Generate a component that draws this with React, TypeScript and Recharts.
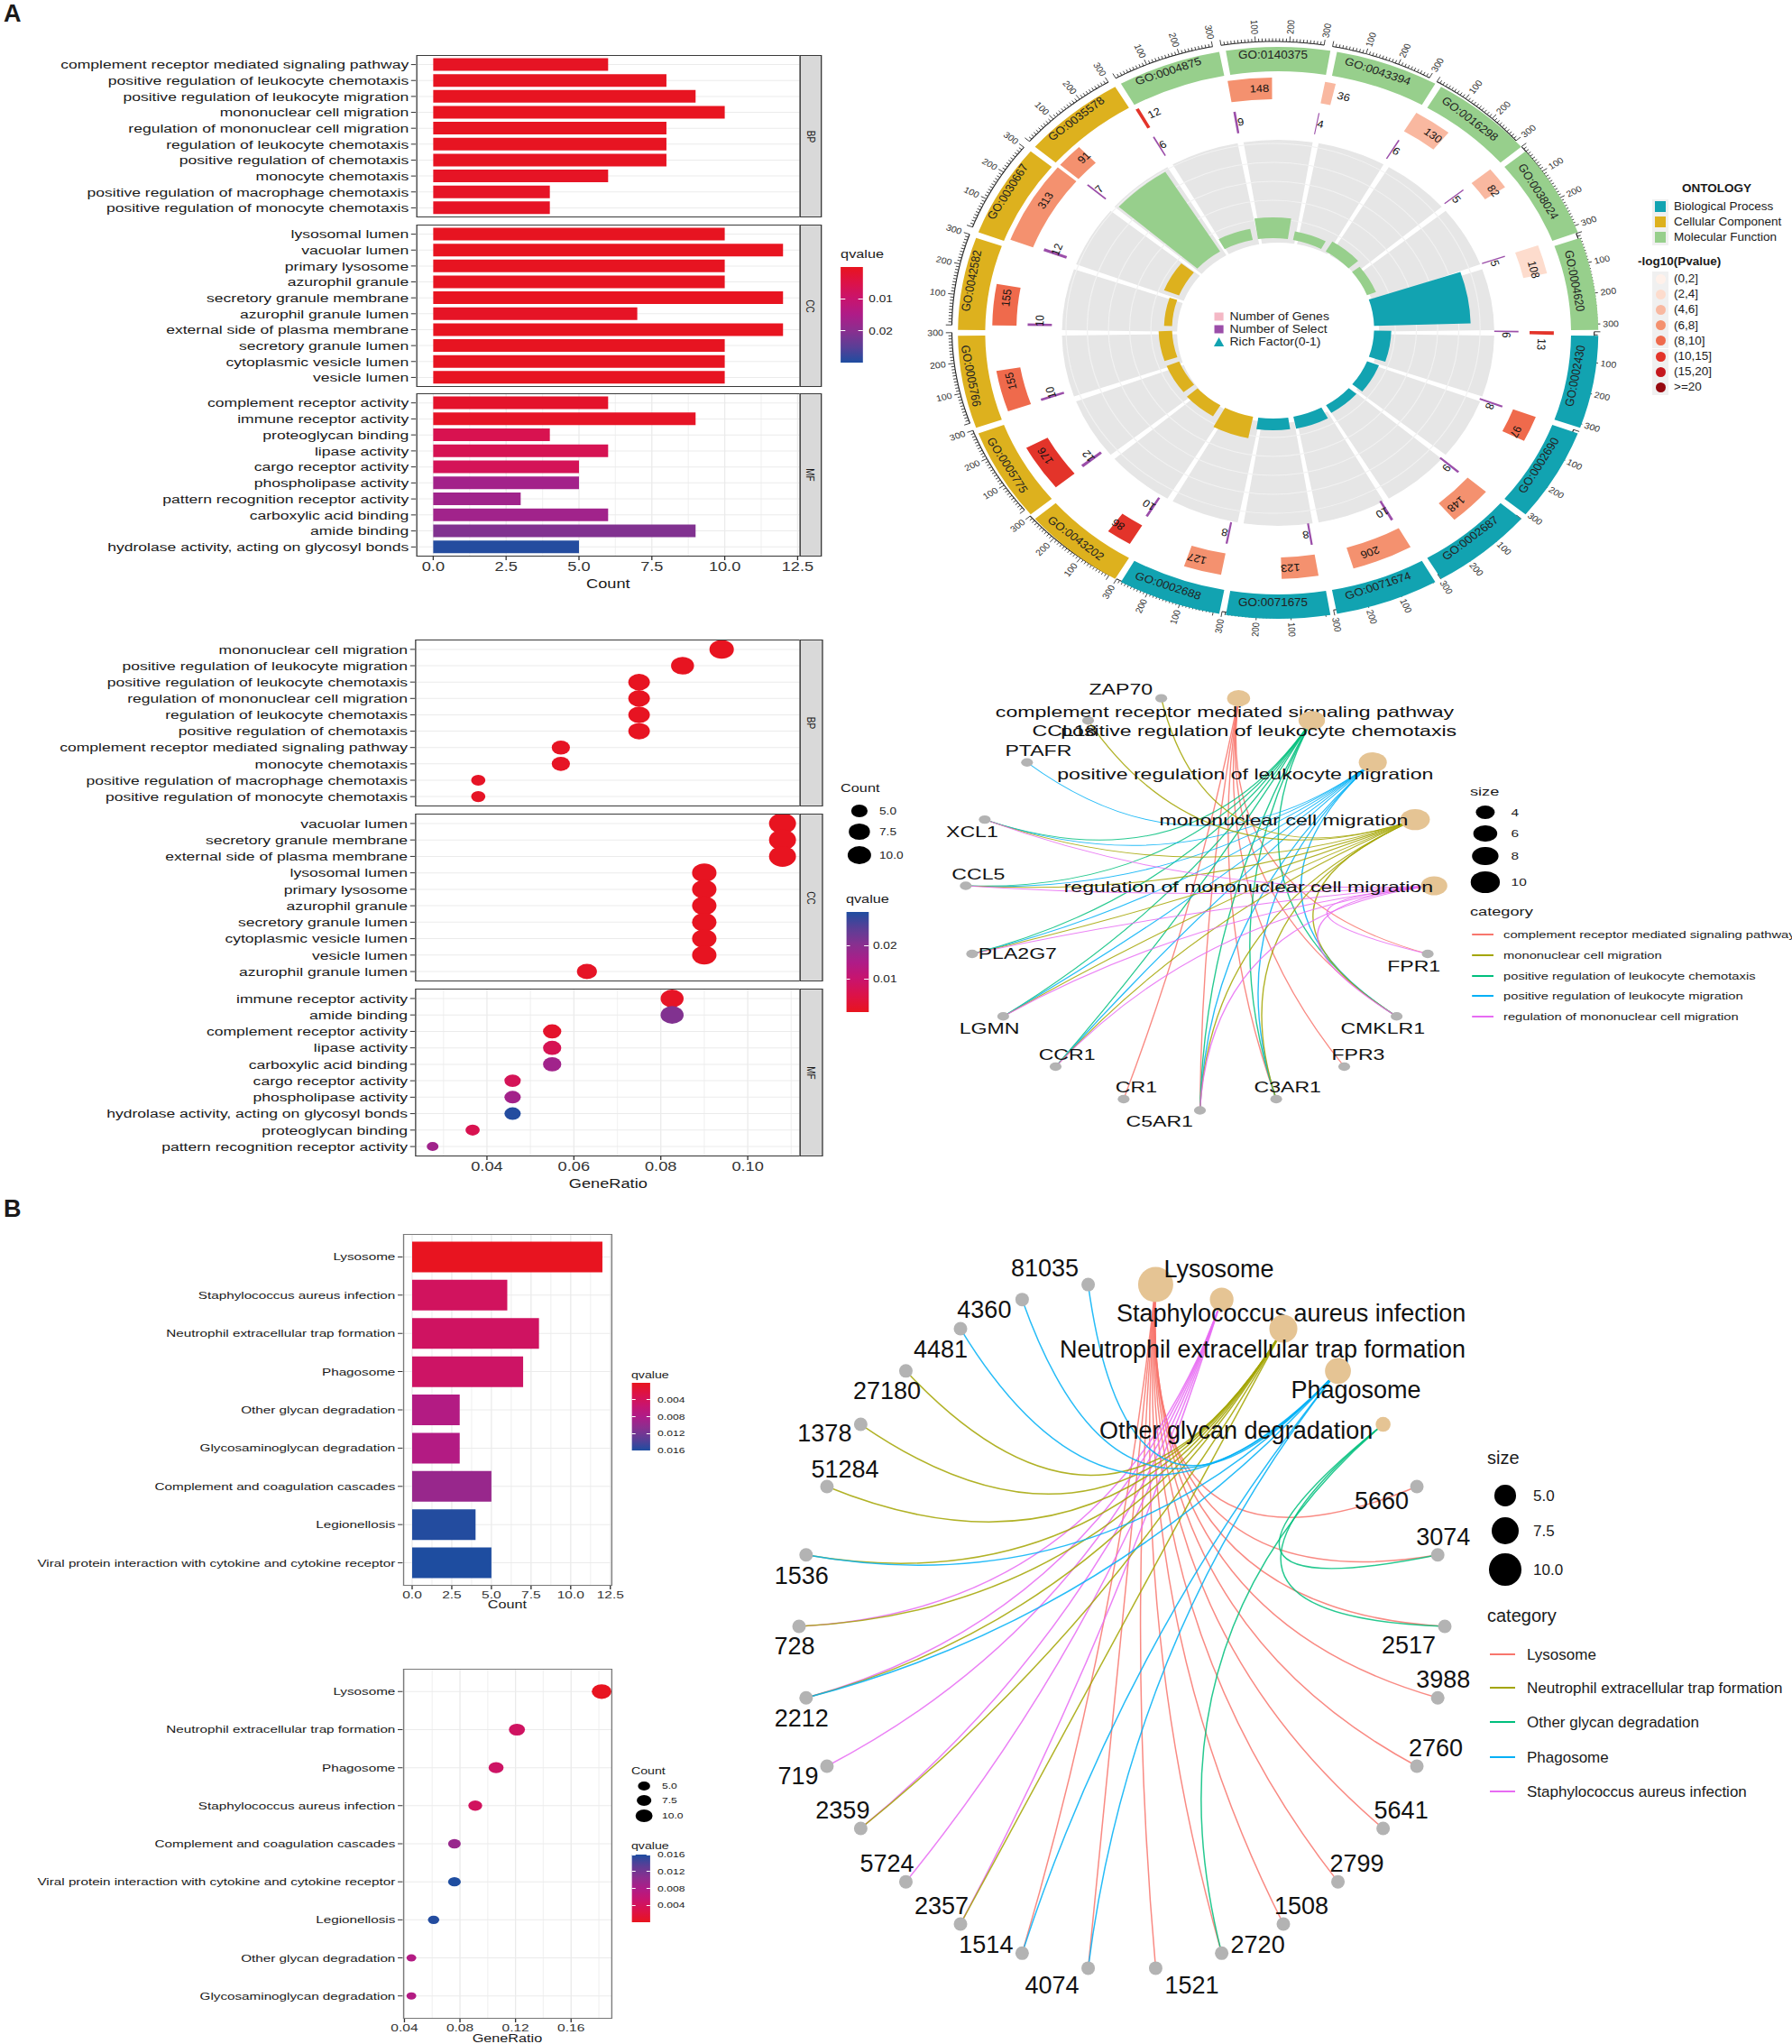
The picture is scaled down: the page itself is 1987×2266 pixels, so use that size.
import React from 'react';
import {
  BarChart, Bar, XAxis, YAxis, ZAxis, CartesianGrid, Cell, ScatterChart, Scatter,
  PieChart, Pie, RadialBarChart, RadialBar, PolarAngleAxis, PolarRadiusAxis, PolarGrid, Sector,
} from 'recharts';

const FONT = '"Liberation Sans", Arial, Helvetica, sans-serif';

// ---------- A: GO enrichment, bar order ----------
const bpTerms = [
  'complement receptor mediated signaling pathway', 'positive regulation of leukocyte chemotaxis',
  'positive regulation of leukocyte migration', 'mononuclear cell migration', 'regulation of mononuclear cell migration',
  'regulation of leukocyte chemotaxis', 'positive regulation of chemotaxis', 'monocyte chemotaxis',
  'positive regulation of macrophage chemotaxis', 'positive regulation of monocyte chemotaxis',
];
const bpCounts = [6, 8, 9, 10, 8, 8, 8, 6, 4, 4];
const bpQ = [0.0007, 0.0004, 0.0003, 0.0002, 0.0004, 0.0005, 0.0005, 0.0008, 0.001, 0.001];

const ccTerms = [
  'lysosomal lumen', 'vacuolar lumen', 'primary lysosome', 'azurophil granule', 'secretory granule membrane',
  'azurophil granule lumen', 'external side of plasma membrane', 'secretory granule lumen', 'cytoplasmic vesicle lumen', 'vesicle lumen',
];
const ccCounts = [10, 12, 10, 10, 12, 7, 12, 10, 10, 10];
const ccQ = [0.0004, 0.0002, 0.0004, 0.0004, 0.0002, 0.0009, 0.0002, 0.0004, 0.0004, 0.0004];

const mfTerms = [
  'complement receptor activity', 'immune receptor activity', 'proteoglycan binding', 'lipase activity', 'cargo receptor activity',
  'phospholipase activity', 'pattern recognition receptor activity', 'carboxylic acid binding', 'amide binding',
  'hydrolase activity, acting on glycosyl bonds',
];
const mfCounts = [6, 9, 4, 6, 5, 5, 3, 6, 9, 5];
const mfQ = [0.0015, 0.001, 0.006, 0.0065, 0.007, 0.0165, 0.017, 0.0168, 0.021, 0.0295];

// ---------- A: GO dot plot order ----------
const bpDotTerms = [
  'mononuclear cell migration', 'positive regulation of leukocyte migration', 'positive regulation of leukocyte chemotaxis',
  'regulation of mononuclear cell migration', 'regulation of leukocyte chemotaxis', 'positive regulation of chemotaxis',
  'complement receptor mediated signaling pathway', 'monocyte chemotaxis', 'positive regulation of macrophage chemotaxis',
  'positive regulation of monocyte chemotaxis',
];
const bpDotRatio = [0.094, 0.085, 0.075, 0.075, 0.075, 0.075, 0.057, 0.057, 0.038, 0.038];
const ccDotTerms = [
  'vacuolar lumen', 'secretory granule membrane', 'external side of plasma membrane', 'lysosomal lumen', 'primary lysosome',
  'azurophil granule', 'secretory granule lumen', 'cytoplasmic vesicle lumen', 'vesicle lumen', 'azurophil granule lumen',
];
const ccDotRatio = [0.108, 0.108, 0.108, 0.09, 0.09, 0.09, 0.09, 0.09, 0.09, 0.063];
const mfDotTerms = [
  'immune receptor activity', 'amide binding', 'complement receptor activity', 'lipase activity', 'carboxylic acid binding',
  'cargo receptor activity', 'phospholipase activity', 'hydrolase activity, acting on glycosyl bonds', 'proteoglycan binding',
  'pattern recognition receptor activity',
];
const mfDotRatio = [0.0826, 0.0826, 0.055, 0.055, 0.055, 0.0459, 0.0459, 0.0459, 0.0367, 0.0275];

// ---------- A: GO circle ----------
const goIds = [
  'GO:0004875', 'GO:0140375', 'GO:0043394', 'GO:0016298', 'GO:0038024', 'GO:0004620',
  'GO:0002430', 'GO:0002690', 'GO:0002687', 'GO:0071674', 'GO:0071675', 'GO:0002688',
  'GO:0043202', 'GO:0005775', 'GO:0005766', 'GO:0042582', 'GO:0030667', 'GO:0035578',
];
const goOntology = ['MF', 'MF', 'MF', 'MF', 'MF', 'MF', 'BP', 'BP', 'BP', 'BP', 'BP', 'BP', 'CC', 'CC', 'CC', 'CC', 'CC', 'CC'];
const goGenes = [12, 148, 36, 130, 82, 108, 13, 97, 148, 206, 123, 127, 86, 176, 155, 155, 313, 91];
const goSelect = [6, 9, 4, 6, 5, 5, 6, 8, 9, 10, 8, 8, 10, 12, 10, 10, 12, 7];
const goLogP = [11, 7, 5, 5, 5, 3.5, 12, 9, 7, 7, 7, 7, 12, 11, 9, 9, 7, 7];

// ---------- A: gene-concept network ----------
const aNetOrder = [
  'complement receptor mediated signaling pathway', 'positive regulation of leukocyte chemotaxis',
  'positive regulation of leukocyte migration', 'mononuclear cell migration', 'regulation of mononuclear cell migration',
  'FPR1', 'CMKLR1', 'FPR3', 'C3AR1', 'C5AR1', 'CR1', 'CCR1', 'LGMN', 'PLA2G7', 'CCL5', 'XCL1', 'PTAFR', 'CCL18', 'ZAP70',
];
const aNetCats = aNetOrder.slice(0, 5);
const aNetCatCounts = [6, 8, 9, 10, 8];
const aNetLinks = [
  ['C3AR1', 'C5AR1', 'CR1', 'FPR1', 'FPR3', 'CMKLR1'],
  ['XCL1', 'CCL5', 'PLA2G7', 'CCR1', 'C5AR1', 'C3AR1', 'CMKLR1', 'LGMN'],
  ['PTAFR', 'XCL1', 'CCL5', 'PLA2G7', 'CCR1', 'C5AR1', 'C3AR1', 'CMKLR1', 'LGMN'],
  ['ZAP70', 'CCL18', 'XCL1', 'CCL5', 'PLA2G7', 'CCR1', 'C5AR1', 'C3AR1', 'CMKLR1', 'LGMN'],
  ['XCL1', 'CCL5', 'PLA2G7', 'LGMN', 'CCR1', 'C5AR1', 'CMKLR1', 'FPR1'],
];
const aLegendCats = [
  'complement receptor mediated signaling pathway', 'mononuclear cell migration', 'positive regulation of leukocyte chemotaxis',
  'positive regulation of leukocyte migration', 'regulation of mononuclear cell migration',
];

// ---------- B: KEGG ----------
const keggTerms = [
  'Lysosome', 'Staphylococcus aureus infection', 'Neutrophil extracellular trap formation', 'Phagosome',
  'Other glycan degradation', 'Glycosaminoglycan degradation', 'Complement and coagulation cascades', 'Legionellosis',
  'Viral protein interaction with cytokine and cytokine receptor',
];
const keggCounts = [12, 6, 8, 7, 3, 3, 5, 4, 5];
const keggQ = [0.0001, 0.0042, 0.0044, 0.0047, 0.0075, 0.0075, 0.0096, 0.0158, 0.016];
const keggDotTerms = [
  'Lysosome', 'Neutrophil extracellular trap formation', 'Phagosome', 'Staphylococcus aureus infection',
  'Complement and coagulation cascades', 'Viral protein interaction with cytokine and cytokine receptor', 'Legionellosis',
  'Other glycan degradation', 'Glycosaminoglycan degradation',
];
const keggDotRatio = [0.182, 0.121, 0.106, 0.091, 0.076, 0.076, 0.061, 0.045, 0.045];

const bNetOrder = [
  'Lysosome', 'Staphylococcus aureus infection', 'Neutrophil extracellular trap formation', 'Phagosome', 'Other glycan degradation',
  '5660', '3074', '2517', '3988', '2760', '5641', '2799', '1508', '2720', '1521', '4074', '1514', '2357', '5724', '2359',
  '719', '2212', '728', '1536', '51284', '1378', '27180', '4481', '4360', '81035',
];
const bNetCats = bNetOrder.slice(0, 5);
const bNetCatCounts = [12, 6, 8, 7, 3];
const bNetLinks = [
  ['5660', '3074', '2517', '3988', '2760', '5641', '2799', '1508', '2720', '1521', '1514', '4074'],
  ['728', '2212', '719', '5724', '2357', '2359'],
  ['27180', '1378', '51284', '1536', '728', '2212', '2359', '2357'],
  ['81035', '4360', '4481', '1536', '2212', '1514', '4074'],
  ['3074', '2517', '2720'],
];
const bLegendCats = ['Lysosome', 'Neutrophil extracellular trap formation', 'Other glycan degradation', 'Phagosome', 'Staphylococcus aureus infection'];

// ---------- styles ----------
const qPalette = ['#E8141E', '#DC1248', '#C8146E', '#AE1C88', '#8A2F8F', '#5B3E96', '#1E4DA0'];
const hex = (h: string) => [1, 3, 5].map((i) => parseInt(h.slice(i, i + 2), 16));
function qColor(q: number, qMax: number) {
  const t = Math.min(1, Math.max(0, q / qMax)) * (qPalette.length - 1);
  const i = Math.min(qPalette.length - 2, Math.floor(t));
  const a = hex(qPalette[i]);
  const b = hex(qPalette[i + 1]);
  return `rgb(${a.map((v, k) => Math.round(v + (b[k] - v) * (t - i))).join(',')})`;
}
const pEdges = [2, 4, 6, 8, 10, 15, 20];
const pLabels = ['(0,2]', '(2,4]', '(4,6]', '(6,8]', '(8,10]', '(10,15]', '(15,20]', '>=20'];
const pColors = ['#FFF1EA', '#FDDCCD', '#F9B8A0', '#F4916F', '#EF6A4C', '#E3342A', '#C5171D', '#96080F'];
function pColor(v: number) {
  let i = 0;
  while (i < pEdges.length && v > pEdges[i]) i++;
  return pColors[i];
}
const ontColor: any = { BP: '#12A3B1', CC: '#DDB11E', MF: '#97CF8C' };
const ontName: any = { BP: 'Biological Process', CC: 'Cellular Component', MF: 'Molecular Function' };
const SELECT_COLOR = '#9B4EA9';
const hue5 = ['#F8766D', '#A3A500', '#00BF7D', '#00B0F6', '#E76BF3'];
const aCatColor: any = {};
aLegendCats.forEach((c, i) => { aCatColor[c] = hue5[i]; });
const bCatColor: any = {};
bLegendCats.forEach((c, i) => { bCatColor[c] = hue5[i]; });

// label nudges (px) for the network text, like ggrepel placed them
const aCatNudge: any = {
  'complement receptor mediated signaling pathway': [-11, 15],
  'positive regulation of leukocyte chemotaxis': [-42, 12],
  'positive regulation of leukocyte migration': [-101, 13],
  'mononuclear cell migration': [-104, 1],
  'regulation of mononuclear cell migration': [-147, 1],
};
const aGeneNudge: any = {
  ZAP70: [-32, -10], CCL18: [-18.6, 12], PTAFR: [9, -13], XCL1: [-10, 14], CCL5: [10, -13], PLA2G7: [36, 0],
  LGMN: [-11, 13], CCR1: [9, -13], CR1: [10, -13], C5AR1: [-32, 12], C3AR1: [9, -13], FPR3: [11, -13],
  CMKLR1: [-11, 13], FPR1: [-11, 14],
};
const bCatNudge: any = {
  Lysosome: [70, -17], 'Staphylococcus aureus infection': [77, 15], 'Neutrophil extracellular trap formation': [-23, 23],
  Phagosome: [20, 21], 'Other glycan degradation': [-163, 7],
};
const bGeneNudge: any = {
  '81035': [-48, -18], '4360': [-42, 11], '4481': [-22, 23], '27180': [-21, 22], '1378': [-40, 10], '51284': [20, -19],
  '1536': [-5, 23], '728': [-5, 22], '2212': [-5, 23], '719': [-32, 11], '2359': [-20, -20], '5724': [-21, -20],
  '2357': [-21, -20], '1514': [-40, -9], '4074': [-40, 19], '1521': [40, 19], '2720': [40, -9], '1508': [20, -20],
  '2799': [21, -20], '5641': [20, -20], '2760': [21, -20], '3988': [6, -20], '2517': [-40, 21], '3074': [6, -20],
  '5660': [-39, 16],
};

const countTicks = [0, 2.5, 5, 7.5, 10, 12.5];
const countMinor = [1.25, 3.75, 6.25, 8.75, 11.25];

function rowsOf(terms: string[], counts: number[], q: number[]) {
  return terms.map((term, i) => ({ term, count: counts[i], q: q[i] }));
}
function dotRowsOf(dotTerms: string[], ratio: number[], terms: string[], counts: number[], q: number[]) {
  return dotTerms.map((term, i) => {
    const j = terms.indexOf(term);
    return { term, ratio: ratio[i], count: counts[j], q: q[j] };
  });
}

// ---------- small layout helpers ----------
function Stretch({ left, top, width, height, sx, children }: any) {
  return (
    <div style={{ position: 'absolute', left, top, width: width / sx, height, transform: `scaleX(${sx})`, transformOrigin: '0 0' }}>
      {children}
    </div>
  );
}
function Label({ x, y, size, anchor = 'start', weight = 400, color = '#1A1A1A', children }: any) {
  const tx = anchor === 'middle' ? '-50%' : anchor === 'end' ? '-100%' : '0';
  return (
    <div style={{ position: 'absolute', left: x, top: y, transform: `translate(${tx}, -50%)`, fontSize: size, fontWeight: weight, color, whiteSpace: 'nowrap', lineHeight: 1 }}>
      {children}
    </div>
  );
}
function Frame({ g, h, strip }: any) {
  return (
    <>
      <div style={{ position: 'absolute', left: g.pl, top: 0, width: g.pr - g.pl, height: h, border: `1px solid ${g.frame}`, boxSizing: 'border-box', pointerEvents: 'none' }} />
      {strip && (
        <div style={{ position: 'absolute', left: g.pr - 1, top: 0, width: g.strip + 1, height: h, background: '#D9D9D9', border: `1px solid ${g.frame}`, boxSizing: 'border-box', display: 'flex', alignItems: 'center', justifyContent: 'center' }}>
          <span style={{ transform: 'rotate(90deg)', fontSize: 10, whiteSpace: 'nowrap', color: '#1A1A1A' }}>{strip}</span>
        </div>
      )}
    </>
  );
}
function ColorBar({ x, y, w, h, qMax, ticks, labelX, fs, blueTop }: any) {
  const stops = blueTop ? [...qPalette].reverse() : qPalette;
  return (
    <>
      <div style={{ position: 'absolute', left: x, top: y, width: w, height: h, background: `linear-gradient(to bottom, ${stops.join(', ')})` }} />
      {ticks.map((t: number) => {
        const ty = y + (blueTop ? 1 - t / qMax : t / qMax) * h;
        return (
          <React.Fragment key={t}>
            <div style={{ position: 'absolute', left: x, top: ty - 0.5, width: w * 0.2, height: 1, background: '#fff' }} />
            <div style={{ position: 'absolute', left: x + w * 0.8, top: ty - 0.5, width: w * 0.2, height: 1, background: '#fff' }} />
            <Label x={labelX} y={ty} size={fs}>{String(t)}</Label>
          </React.Fragment>
        );
      })}
    </>
  );
}
function Dot({ x, y, r, color = '#000' }: any) {
  return <div style={{ position: 'absolute', left: x - r, top: y - r, width: 2 * r, height: 2 * r, borderRadius: '50%', background: color }} />;
}
const areaR = (c: number, dom: number[], rng: number[]) => Math.sqrt((rng[0] + ((c - dom[0]) / (dom[1] - dom[0])) * (rng[1] - rng[0])) / Math.PI);

// plain category tick text (no wrapping)
const yTick = (fs: number) => (p: any) => (
  <text x={p.x} y={p.y} dy="0.355em" textAnchor="end" fontSize={fs} fill="#1A1A1A">{p.payload?.value}</text>
);

// ---------- faceted bar / dot charts ----------
function BarFacet({ g, top, h, rows, strip, axis }: any) {
  const axisH = axis ? 26 : 0;
  const pad = (h * 0.1) / (rows.length + 0.2);
  return (
    <div style={{ position: 'absolute', left: 0, top, width: g.w, height: h + axisH }}>
      <BarChart width={g.w} height={h + axisH} data={rows} layout="vertical" barCategoryGap="10%" margin={{ top: 0, right: g.w - g.pr, bottom: 0, left: 0 }}>
        <CartesianGrid stroke="#F3F3F3" horizontal={false} verticalValues={g.xMinor} />
        <CartesianGrid stroke="#EBEBEB" verticalValues={g.xTicks} />
        <XAxis type="number" domain={g.xDomain} ticks={g.xTicks} interval={0} height={axisH} tickSize={4} axisLine={false}
          tick={axis ? { fontSize: g.tickFs, fill: '#333' } : false} tickLine={axis ? { stroke: '#333' } : false} tickFormatter={g.fmt} />
        <YAxis type="category" dataKey="term" width={g.pl} interval={0} tickSize={4} axisLine={false}
          tick={yTick(g.labelFs)} tickLine={{ stroke: '#333' }} padding={{ top: pad, bottom: pad }} />
        <Bar dataKey="count" isAnimationActive={false}>
          {rows.map((r: any) => <Cell key={r.term} fill={qColor(r.q, g.qMax)} />)}
        </Bar>
      </BarChart>
      <Frame g={g} h={h} strip={strip} />
    </div>
  );
}
function DotFacet({ g, top, h, rows, strip, axis }: any) {
  const axisH = axis ? 26 : 0;
  const pad = (h * 0.1) / (rows.length + 0.2);
  return (
    <div style={{ position: 'absolute', left: 0, top, width: g.w, height: h + axisH }}>
      <ScatterChart width={g.w} height={h + axisH} margin={{ top: 0, right: g.w - g.pr, bottom: 0, left: 0 }}>
        <CartesianGrid stroke="#F3F3F3" horizontal={false} verticalValues={g.xMinor} />
        <CartesianGrid stroke="#EBEBEB" verticalValues={g.xTicks} />
        <XAxis type="number" dataKey="ratio" domain={g.xDomain} ticks={g.xTicks} interval={0} height={axisH} tickSize={4} axisLine={false}
          tick={axis ? { fontSize: g.tickFs, fill: '#333' } : false} tickLine={axis ? { stroke: '#333' } : false} tickFormatter={g.fmt} />
        <YAxis type="category" dataKey="term" scale="band" reversed width={g.pl} interval={0} tickSize={4} axisLine={false}
          tick={yTick(g.labelFs)} tickLine={{ stroke: '#333' }} padding={{ top: pad, bottom: pad }} />
        <ZAxis type="number" dataKey="count" domain={g.zDomain} range={g.zRange} />
        <Scatter data={rows} isAnimationActive={false}>
          {rows.map((r: any) => <Cell key={r.term} fill={qColor(r.q, g.qMax)} />)}
        </Scatter>
      </ScatterChart>
      <Frame g={g} h={h} strip={strip} />
    </div>
  );
}

const A_BAR = {
  w: 703, pl: 354.6, pr: 682.8, strip: 18.7, labelFs: 13.5, tickFs: 14, frame: '#3A3A3A', qMax: 0.03,
  xDomain: [-0.6, 12.6], xTicks: countTicks, xMinor: countMinor, fmt: (v: number) => v.toFixed(1),
};
const A_DOT = {
  ...A_BAR, pl: 353.8, pr: 683, strip: 18.5, xDomain: [0.0234, 0.1122], xTicks: [0.04, 0.06, 0.08, 0.1],
  xMinor: [0.03, 0.05, 0.07, 0.09, 0.11], fmt: (v: number) => v.toFixed(2), zDomain: [3, 12], zRange: [78.5, 415],
};
const K_BAR = {
  w: 530, pl: 330.7, pr: 502.6, strip: 0, labelFs: 11.3, tickFs: 11.5, frame: '#7A7A7A', qMax: 0.016,
  xDomain: [-0.6, 12.6], xTicks: countTicks, xMinor: countMinor, fmt: (v: number) => v.toFixed(1),
};
const K_DOT = {
  ...K_BAR, xDomain: [0.0387, 0.1894], xTicks: [0.04, 0.08, 0.12, 0.16], xMinor: [0.06, 0.1, 0.14, 0.18],
  fmt: (v: number) => v.toFixed(2), zDomain: [3, 12], zRange: [50.3, 206],
};

function GoLeftPanels() {
  const mid = (A_BAR.pl + A_BAR.pr) / 2;
  const sizeVals = [5, 7.5, 10];
  const sizeYs = [899, 922, 948];
  return (
    <Stretch left={0} top={0} width={1040} height={1330} sx={1.3}>
      <BarFacet g={A_BAR} top={61} h={180} rows={rowsOf(bpTerms, bpCounts, bpQ)} strip="BP" />
      <BarFacet g={A_BAR} top={249} h={180} rows={rowsOf(ccTerms, ccCounts, ccQ)} strip="CC" />
      <BarFacet g={A_BAR} top={436} h={181} rows={rowsOf(mfTerms, mfCounts, mfQ)} strip="MF" axis />
      <Label x={mid} y={647} size={14} anchor="middle">Count</Label>
      <Label x={717} y={282} size={12.5}>qvalue</Label>
      <ColorBar x={717} y={296} w={19} h={106} qMax={0.03} ticks={[0.01, 0.02]} labelX={741} fs={10.5} />

      <DotFacet g={A_DOT} top={709} h={185} rows={dotRowsOf(bpDotTerms, bpDotRatio, bpTerms, bpCounts, bpQ)} strip="BP" />
      <DotFacet g={A_DOT} top={902} h={186} rows={dotRowsOf(ccDotTerms, ccDotRatio, ccTerms, ccCounts, ccQ)} strip="CC" />
      <DotFacet g={A_DOT} top={1096} h={186} rows={dotRowsOf(mfDotTerms, mfDotRatio, mfTerms, mfCounts, mfQ)} strip="MF" axis />
      <Label x={mid} y={1312} size={14} anchor="middle">GeneRatio</Label>
      <Label x={717} y={874} size={12.5}>Count</Label>
      {sizeVals.map((c, i) => (
        <React.Fragment key={c}>
          <Dot x={733} y={sizeYs[i]} r={areaR(c, A_DOT.zDomain, A_DOT.zRange)} />
          <Label x={750} y={sizeYs[i]} size={10.5}>{c.toFixed(1)}</Label>
        </React.Fragment>
      ))}
      <Label x={721.5} y={997} size={12.5}>qvalue</Label>
      <ColorBar x={721.5} y={1011} w={19.3} h={111} qMax={0.03} ticks={[0.01, 0.02]} labelX={744.6} fs={10.5} blueTop />
    </Stretch>
  );
}

function KeggLeftPanels() {
  const mid = (K_BAR.pl + K_BAR.pr) / 2;
  const sizeVals = [5, 7.5, 10];
  const sizeYs = [635, 651, 668];
  const kRows = rowsOf(keggTerms, keggCounts, keggQ);
  return (
    <Stretch left={0} top={1345} width={780} height={921} sx={1.35}>
      <BarFacet g={K_BAR} top={23} h={390} rows={kRows} axis />
      <Label x={mid} y={434} size={12} anchor="middle">Count</Label>
      <Label x={518.5} y={179} size={10.5}>qvalue</Label>
      <ColorBar x={518.5} y={188} w={15.9} h={75} qMax={0.016} ticks={[0.004, 0.008, 0.012, 0.016]} labelX={540} fs={9} />

      <DotFacet g={K_DOT} top={505} h={388} rows={dotRowsOf(keggDotTerms, keggDotRatio, keggTerms, keggCounts, keggQ)} axis />
      <Label x={mid} y={915} size={12} anchor="middle">GeneRatio</Label>
      <Label x={518.5} y={618} size={10.5}>Count</Label>
      {sizeVals.map((c, i) => (
        <React.Fragment key={c}>
          <Dot x={528.9} y={sizeYs[i]} r={areaR(c, K_DOT.zDomain, K_DOT.zRange)} />
          <Label x={543.7} y={sizeYs[i]} size={9}>{c.toFixed(1)}</Label>
        </React.Fragment>
      ))}
      <Label x={518.5} y={701} size={10.5}>qvalue</Label>
      <ColorBar x={518.5} y={711} w={15.9} h={75} qMax={0.016} ticks={[0.004, 0.008, 0.012, 0.016]} labelX={540} fs={9} blueTop />
    </Stretch>
  );
}

// ---------- GO circle ----------
const GC_W = 760;
const GC_H = 770;
const GC_CX = 380;
const GC_CY = 364;
const RING_R = 318;
const RING_UNIT = -20 / 325;
const RICH_IN = 100;
const RICH_TRACK = 214;
const ringTicks = Array.from({ length: 31 }, (_, i) => i * 10);
const rad = (a: number) => (a * Math.PI) / 180;
const polar = (r: number, a: number) => ({ x: GC_CX + r * Math.cos(rad(a)), y: GC_CY - r * Math.sin(rad(a)) });
const cw = (a: number) => (((90 - a) % 360) + 360) % 360;

function RingTick(p: any) {
  const v = p.payload?.value;
  const a = p.payload?.coordinate;
  if (v == null || a == null) return <g />;
  const major = v % 100 === 0;
  const p0 = polar(RING_R, a);
  const p1 = polar(RING_R + (major ? 6 : 3.5), a);
  const th = cw(a);
  const right = th < 180;
  const lp = polar(RING_R + 8.5, a);
  const nx = polar(RING_R, a + 10 * RING_UNIT);
  return (
    <g>
      <line x1={p0.x} y1={p0.y} x2={p1.x} y2={p1.y} stroke="#222" strokeWidth={0.8} />
      {v < 300 && <line x1={p0.x} y1={p0.y} x2={nx.x} y2={nx.y} stroke="#222" strokeWidth={1} />}
      {major && v > 0 && (
        <text x={lp.x} y={lp.y} fontSize={9.5} fill="#333" textAnchor={right ? 'start' : 'end'} dominantBaseline="central"
          transform={`rotate(${right ? th - 90 : th + 90}, ${lp.x}, ${lp.y})`}>{v}</text>
      )}
    </g>
  );
}

function ringBarShape(t: any) {
  return (p: any) => {
    const kind = p.payload?.kind ?? p.kind;
    if (kind !== 'select' && kind !== 'genes') return <g />;
    const v = kind === 'select' ? t.select : t.genes;
    const fill = kind === 'select' ? SELECT_COLOR : pColor(t.logp);
    const at = kind === 'select' ? v + 13 : v < 60 ? v + 38 : v / 2 + 30;
    const a = p.startAngle + ((p.endAngle - p.startAngle) * at) / v;
    const lp = polar((p.innerRadius + p.outerRadius) / 2, a);
    return (
      <g>
        <Sector cx={p.cx} cy={p.cy} innerRadius={p.innerRadius} outerRadius={p.outerRadius} startAngle={p.startAngle} endAngle={p.endAngle} fill={fill} />
        <text x={lp.x} y={lp.y} fontSize={11.5} fill="#111" textAnchor="middle" dominantBaseline="central" transform={`rotate(${cw(a)}, ${lp.x}, ${lp.y})`}>{v}</text>
      </g>
    );
  };
}

function goLabel(p: any) {
  const a = p.midAngle;
  const lp = polar((p.innerRadius + p.outerRadius) / 2, a);
  const th = cw(a);
  const rot = th > 90 && th < 270 ? th + 180 : th;
  return (
    <text key={`gl${p.index}`} x={lp.x} y={lp.y} fontSize={12} fill="#222" textAnchor="middle" dominantBaseline="central" transform={`rotate(${rot}, ${lp.x}, ${lp.y})`}>
      {goIds[p.index]}
    </text>
  );
}

function GoCircle() {
  const rows = goIds.map((id, i) => ({ id, ont: goOntology[i], genes: goGenes[i], select: goSelect[i], logp: goLogP[i], rich: goSelect[i] / goGenes[i], w: 1 }));
  const abs: any = { position: 'absolute', left: 0, top: 0 };
  // rich factor drawn on a 0..1 radius scale; the grey track covers 0..0.55 of it
  const richOuter = RICH_IN + (RICH_TRACK - RICH_IN) / 0.55;
  return (
    <Stretch left={1412 - GC_CX * 1.12} top={0} width={GC_W * 1.12} height={GC_H} sx={1.12}>
      <div style={abs}>
        <PieChart width={GC_W} height={GC_H}>
          <Pie data={rows} dataKey="w" cx={GC_CX} cy={GC_CY} innerRadius={RICH_IN} outerRadius={RICH_TRACK} startAngle={119.2} endAngle={-240.8}
            paddingAngle={1.6} stroke="none" fill="#E6E6E6" isAnimationActive={false} />
        </PieChart>
      </div>
      <div style={abs}>
        <RadialBarChart width={GC_W} height={GC_H} cx={GC_CX} cy={GC_CY} data={rows} layout="centric" innerRadius={RICH_IN} outerRadius={richOuter}
          startAngle={120} endAngle={-240} barCategoryGap="8%">
          <PolarGrid gridType="circle" radialLines={false} polarRadius={[121, 142, 163, 184, 205]} stroke="#F2F2F2" strokeWidth={1} />
          <PolarAngleAxis type="category" dataKey="id" tick={false} tickLine={false} axisLine={false} />
          <PolarRadiusAxis type="number" domain={[0, 1]} allowDataOverflow tick={false} tickLine={false} axisLine={false} />
          <RadialBar dataKey="rich" isAnimationActive={false}>
            {rows.map((r) => <Cell key={r.id} fill={ontColor[r.ont]} />)}
          </RadialBar>
        </RadialBarChart>
      </div>
      {rows.map((t, i) => {
        const start = 120 - 20 * i;
        const data = [{ ring: 'select', kind: 'select', v: t.select }, { ring: 'genes', kind: 'genes', v: t.genes }, { ring: 'pad', kind: 'pad', v: 0 }];
        return (
          <div key={t.id} style={abs}>
            <RadialBarChart width={GC_W} height={GC_H} cx={GC_CX} cy={GC_CY} data={data} innerRadius={213} outerRadius={RING_R} startAngle={start} endAngle={start - 20} barSize={24}>
              <PolarAngleAxis type="number" domain={[-11, 314]} ticks={ringTicks} tick={RingTick} tickLine={false} axisLine={false} />
              <PolarRadiusAxis type="category" dataKey="ring" tick={false} tickLine={false} axisLine={false} />
              <RadialBar dataKey="v" isAnimationActive={false} shape={ringBarShape(t)} />
            </RadialBarChart>
          </div>
        );
      })}
      <div style={abs}>
        <PieChart width={GC_W} height={GC_H}>
          <Pie data={rows} dataKey="w" cx={GC_CX} cy={GC_CY} innerRadius={290} outerRadius={317} startAngle={119.4} endAngle={-240.6}
            paddingAngle={1.2} stroke="none" isAnimationActive={false} label={goLabel} labelLine={false}>
            {rows.map((r) => <Cell key={r.id} fill={ontColor[r.ont]} />)}
          </Pie>
        </PieChart>
      </div>
      <svg style={abs} width={GC_W} height={GC_H}>
        <rect x={321.9} y={346.5} width={9} height={9} fill="#F4B8C5" />
        <rect x={321.9} y={360.5} width={9} height={9} fill={SELECT_COLOR} />
        <polygon points="321.4,384 331.4,384 326.4,374" fill={ontColor.BP} />
        <text x={337} y={351} fontSize={12.5} fill="#222" dominantBaseline="central">Number of Genes</text>
        <text x={337} y={365} fontSize={12.5} fill="#222" dominantBaseline="central">Number of Select</text>
        <text x={337} y={379} fontSize={12.5} fill="#222" dominantBaseline="central">Rich Factor(0-1)</text>
      </svg>
    </Stretch>
  );
}

function GoCircleLegend() {
  return (
    <>
      <Label x={1865} y={209} size={13.5} weight={700}>ONTOLOGY</Label>
      {['BP', 'CC', 'MF'].map((o, i) => {
        const y = 229 + i * 17.2;
        return (
          <React.Fragment key={o}>
            <div style={{ position: 'absolute', left: 1832, top: y - 8.5, width: 18, height: 17, background: '#F0F0F0' }} />
            <div style={{ position: 'absolute', left: 1835, top: y - 6, width: 12, height: 12, background: ontColor[o] }} />
            <Label x={1856} y={y} size={13.5}>{ontName[o]}</Label>
          </React.Fragment>
        );
      })}
      <Label x={1816} y={290} size={13.5} weight={700}>-log10(Pvalue)</Label>
      {pLabels.map((l, i) => {
        const y = 309 + i * 17.2;
        return (
          <React.Fragment key={l}>
            <div style={{ position: 'absolute', left: 1832, top: y - 8.5, width: 18, height: 17, background: '#F0F0F0' }} />
            <Dot x={1841} y={y} r={5.5} color={pColors[i]} />
            <Label x={1856} y={y} size={13.5}>{l}</Label>
          </React.Fragment>
        );
      })}
    </>
  );
}

// ---------- gene-concept networks ----------
function circleLayout(order: string[]) {
  return order.map((name, k) => {
    const a = ((k + 0.5) * 2 * Math.PI) / order.length;
    return { name, x: Math.sin(a), y: Math.cos(a) };
  });
}

function EdgeArcs(props: any) {
  const { points, edgeColor, edgeWidth } = props;
  if (!points || points.length < 3) return null;
  const c = points[0];
  const cat = points[1];
  return (
    <g>
      {points.slice(2).map((g: any, i: number) => {
        const mx = (g.x + cat.x) / 2;
        const my = (g.y + cat.y) / 2;
        const qx = mx + 0.9 * (c.x - mx);
        const qy = my + 0.9 * (c.y - my);
        return <path key={i} d={`M${g.x},${g.y} Q${qx},${qy} ${cat.x},${cat.y}`} fill="none" stroke={edgeColor} strokeWidth={edgeWidth} strokeOpacity={0.85} />;
      })}
    </g>
  );
}

const emptyShape = () => <g />;

function CNet(p: any) {
  const nodes = circleLayout(p.order);
  const pos: any = {};
  nodes.forEach((n) => { pos[n.name] = n; });
  const catNodes = p.cats.map((c: string, i: number) => ({ ...pos[c], count: p.catCounts[i] }));
  const geneNodes = nodes.filter((n) => !p.cats.includes(n.name));
  const geneShape = (s: any) => {
    const name = s.payload?.name ?? s.name;
    const [dx, dy] = p.geneNudge[name] || [0, 0];
    return (
      <g>
        <circle cx={s.cx} cy={s.cy} r={p.geneR} fill="#B3B3B3" />
        <text x={s.cx + dx} y={s.cy + dy} fontSize={p.fs} fill="#111" textAnchor="middle" dominantBaseline="central">{name}</text>
      </g>
    );
  };
  const catShape = (s: any) => {
    const name = s.payload?.name ?? s.name;
    const r = s.size > 0 ? Math.sqrt(s.size / Math.PI) : (s.width || 20) / 2;
    const [dx, dy] = p.catNudge[name] || [0, 0];
    return (
      <g>
        <circle cx={s.cx} cy={s.cy} r={r} fill="#E5C494" />
        <text x={s.cx + dx} y={s.cy + dy} fontSize={p.fs} fill="#111" textAnchor="middle" dominantBaseline="central">{name}</text>
      </g>
    );
  };
  return (
    <ScatterChart width={p.width} height={p.height} margin={p.margin} style={{ overflow: 'visible' }}>
      <XAxis type="number" dataKey="x" domain={[-1, 1]} hide />
      <YAxis type="number" dataKey="y" domain={[-1, 1]} hide />
      <ZAxis type="number" dataKey="count" domain={p.zDomain} range={p.zRange} />
      {p.cats.map((c: string, i: number) => (
        <Scatter key={c} data={[{ name: 'centre', x: 0, y: 0 }, pos[c], ...p.links[i].map((g: string) => pos[g])]}
          shape={emptyShape} lineType="joint" isAnimationActive={false}
          line={<EdgeArcs edgeColor={p.colors[c]} edgeWidth={p.edgeW} />} />
      ))}
      <Scatter data={geneNodes} shape={geneShape} isAnimationActive={false} />
      <Scatter data={catNodes} shape={catShape} isAnimationActive={false} />
    </ScatterChart>
  );
}

function GoNetwork() {
  const z = { domain: [4, 10], range: [177, 430] };
  const sizeVals = [4, 6, 8, 10];
  const sizeYs = [161, 184, 209, 238];
  const catYs = [296, 319, 342, 364, 387];
  return (
    <Stretch left={1040} top={740} width={950} height={526} sx={1.4}>
      <div style={{ position: 'absolute', left: 0, top: 0 }}>
        <CNet width={420} height={520} margin={{ top: 31, right: 26.4, bottom: 29, left: 21.4 }} order={aNetOrder} cats={aNetCats}
          catCounts={aNetCatCounts} links={aNetLinks} colors={aCatColor} zDomain={z.domain} zRange={z.range} geneR={4.7} fs={16.5}
          geneNudge={aGeneNudge} catNudge={aCatNudge} edgeW={1} />
      </div>
      <Label x={421.4} y={137} size={13}>size</Label>
      {sizeVals.map((c, i) => (
        <React.Fragment key={c}>
          <Dot x={433.6} y={sizeYs[i]} r={areaR(c, z.domain, z.range)} />
          <Label x={454} y={sizeYs[i]} size={11}>{c}</Label>
        </React.Fragment>
      ))}
      <Label x={421.4} y={270} size={13}>category</Label>
      {aLegendCats.map((c, i) => (
        <React.Fragment key={c}>
          <div style={{ position: 'absolute', left: 422.9, top: catYs[i] - 0.75, width: 17, height: 1.5, background: aCatColor[c] }} />
          <Label x={447.9} y={catYs[i]} size={10.5}>{c}</Label>
        </React.Fragment>
      ))}
    </Stretch>
  );
}

function KeggNetwork() {
  const z = { domain: [3, 12], range: [216, 1195] };
  const sizeVals = [5, 7.5, 10];
  const sizeYs = [1658, 1697, 1740];
  const catYs = [1834, 1871, 1909, 1948, 1986];
  return (
    <>
      <div style={{ position: 'absolute', left: 840, top: 1380 }}>
        <CNet width={800} height={860} margin={{ top: 42, right: 38, bottom: 56, left: 46 }} order={bNetOrder} cats={bNetCats}
          catCounts={bNetCatCounts} links={bNetLinks} colors={bCatColor} zDomain={z.domain} zRange={z.range} geneR={7.5} fs={27}
          geneNudge={bGeneNudge} catNudge={bCatNudge} edgeW={1.5} />
      </div>
      <Label x={1649} y={1616} size={20}>size</Label>
      {sizeVals.map((c, i) => (
        <React.Fragment key={c}>
          <Dot x={1669} y={sizeYs[i]} r={areaR(c, z.domain, z.range)} />
          <Label x={1700} y={sizeYs[i]} size={17}>{c.toFixed(1)}</Label>
        </React.Fragment>
      ))}
      <Label x={1649} y={1791} size={20}>category</Label>
      {bLegendCats.map((c, i) => (
        <React.Fragment key={c}>
          <div style={{ position: 'absolute', left: 1652, top: catYs[i] - 1, width: 28, height: 2, background: bCatColor[c] }} />
          <Label x={1693} y={catYs[i]} size={17}>{c}</Label>
        </React.Fragment>
      ))}
    </>
  );
}

export default function App() {
  return (
    <div style={{ position: 'absolute', left: 0, top: 0, width: 1987, height: 2266, background: '#fff', fontFamily: FONT, color: '#1A1A1A', overflow: 'hidden' }}>
      <div style={{ position: 'absolute', left: 4, top: 2, fontSize: 27, fontWeight: 700, lineHeight: 1 }}>A</div>
      <div style={{ position: 'absolute', left: 4, top: 1327, fontSize: 27, fontWeight: 700, lineHeight: 1 }}>B</div>
      <GoLeftPanels />
      <GoCircle />
      <GoCircleLegend />
      <GoNetwork />
      <KeggLeftPanels />
      <KeggNetwork />
    </div>
  );
}
